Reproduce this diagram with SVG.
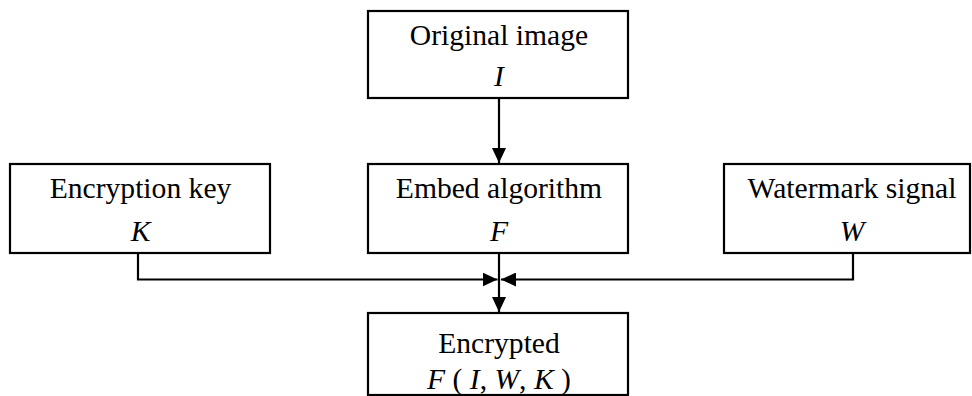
<svg xmlns="http://www.w3.org/2000/svg" width="972" height="396" viewBox="0 0 972 396">
  <style>
    .box { fill: #ffffff; stroke: #000000; stroke-width: 2.2; }
    .lbl { font-family: "Liberation Serif", "Times New Roman", serif; font-size: 29.6px; fill: #000000; text-anchor: middle; }
    .it { font-style: italic; }
    .wire { fill: none; stroke: #000000; stroke-width: 2.2; }
  </style>
  <defs>
    <marker id="arrow" viewBox="0 0 15 14" refX="15" refY="7" markerWidth="15" markerHeight="14" markerUnits="userSpaceOnUse" orient="auto">
      <path d="M0,0 L15,7 L0,14 Z" fill="#000000"/>
    </marker>
  </defs>
  <rect width="972" height="396" fill="#ffffff"/>

  <g id="connectors">
    <line class="wire" x1="499" y1="98" x2="499" y2="163" marker-end="url(#arrow)"/>
    <polyline class="wire" points="138,253 138,279.5 497.5,279.5" marker-end="url(#arrow)"/>
    <polyline class="wire" points="853,253 853,279.5 501,279.5" marker-end="url(#arrow)"/>
    <line class="wire" x1="499" y1="253" x2="499" y2="312" marker-end="url(#arrow)"/>
  </g>

  <g id="original">
    <rect class="box" x="368" y="11" width="260" height="87"/>
    <text class="lbl" x="499" y="45">Original image</text>
    <text class="lbl it" x="499" y="86">I</text>
  </g>

  <g id="key">
    <rect class="box" x="10" y="164" width="260" height="89"/>
    <text class="lbl" x="140.5" y="198">Encryption key</text>
    <text class="lbl it" x="140.5" y="241">K</text>
  </g>

  <g id="embed">
    <rect class="box" x="368" y="164" width="260" height="89"/>
    <text class="lbl" x="499" y="198">Embed algorithm</text>
    <text class="lbl it" x="499" y="241">F</text>
  </g>

  <g id="watermark">
    <rect class="box" x="724" y="164" width="246" height="89"/>
    <text class="lbl" x="852" y="198">Watermark signal</text>
    <text class="lbl it" x="852" y="241">W</text>
  </g>

  <g id="encrypted">
    <rect class="box" x="368" y="313" width="260" height="82"/>
    <text class="lbl" x="499" y="353">Encrypted</text>
    <text class="lbl" x="499" y="389"><tspan class="it">F</tspan> ( <tspan class="it">I</tspan>, <tspan class="it">W</tspan>, <tspan class="it">K</tspan> )</text>
  </g>
</svg>
